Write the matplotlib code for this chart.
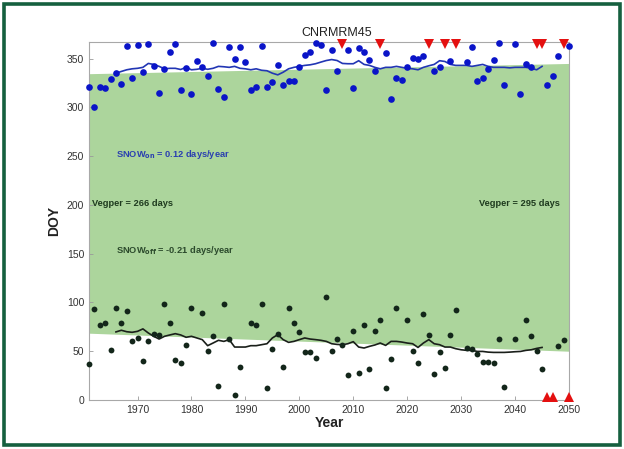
import numpy as np
import matplotlib
matplotlib.use("Agg")
import matplotlib.pyplot as plt
from matplotlib.patches import Rectangle

plt.rcParams['font.family'] = ['Liberation Sans', 'DejaVu Sans']

nan = np.nan
years = np.arange(1961, 2051)

# Day of year of snow onset (autumn) per year; NaN where no onset occurred
snow_on = [320.6, 300, 320.6, 319.6, 329, 335, 324, 363, 330, 364,
           336, 365, 342.6, 315, 339.5, 356.7, 365, 318, 340, 313.7,
           348, 341.6, 332.3, 366, 319, 311, 362, 350, 362, 346,
           318, 321, 363, 321, 326, 343, 323, 326.5, 327, 341,
           354, 356.7, 366, 364, 318, 359, 337, nan, 359, 320,
           361, 357, 349, 337, nan, 356, 308.6, 330, 327.8, 341,
           351, 350, 353, nan, 337, 341, nan, 348, nan, nan,
           346.7, 362, 327, 330, 339, 349, 366, 323, nan, 365,
           313.7, 344, 341, nan, nan, 323, 332, 353, nan, 363]

# Day of year of snow melt-out (spring) per year
snow_off = [36.8, 93, 76.6, 78.7, 50.8, 94.8, 78.7, 91, 60, 63.6,
            40.2, 60.8, 68, 67, 98.6, 79, 41.2, 37.8, 56, 94,
            nan, 89, 49.8, 66, 14.8, 98.6, 62.5, 5, 33.7, nan,
            78.7, 76.6, 98.6, 12, 52, 68, 33.7, 94, 79, 70,
            49, 49, 43, nan, 106, 50.5, 63, 56, 25.4, 70.8,
            27.5, 77.3, 32, 70.8, 82, 12.7, 42, 94.8, nan, 82,
            50, 37.8, 88, 67, 26.8, 49, 33, 67, 92, nan,
            53.3, 52.6, 47, 38.8, 38.8, 37.8, 63, 13.7, nan, 63,
            nan, 82, 65.6, 50, 32, nan, nan, 55, 62, nan]

# Years with no snow onset (marked at the top) and no melt-out (bottom)
no_onset_years = [2008, 2015, 2024, 2027, 2029, 2044, 2045, 2049]
no_melt_years = [2046, 2047, 2050]

# Running means, 1966-2045
ma_years = np.arange(1966, 2046)
snow_on_ma = [335, 336.8, 338.5, 339.5, 340, 341, 345, 344, 342, 339.5,
              340, 340, 338.8, 341, 338.5, 339, 340, 339, 340, 342,
              341.6, 341, 342, 340, 339.5, 338.5, 339.5, 338, 337.5, 335,
              333.3, 336, 339.5, 341, 342, 343, 343.6, 344.7, 346.4, 348,
              349, 348, 345, 344.7, 344.7, 347.8, 344, 343, 341, 339.5,
              341, 341, 342, 341, 340, 339.5, 338.5, 341, 342.6, 344,
              347.8, 347, 344, 343, 343, 343, 342, 343, 344, 342,
              341, 341, 341, 340.5, 341, 341, 341, 340, 338.5, 342]
snow_off_ma = [69.8, 71.5, 70, 69.4, 70.4, 72.9, 68.7, 65.3, 62.5, 65.3,
               66.7, 68, 66.7, 64.3, 65.3, 63.6, 61.9, 55.7, 58.4, 61.2,
               60.1, 61.9, 54.3, 54.3, 54.3, 55.7, 55.7, 56.7, 57.7, 63.6,
               67, 61.9, 59.1, 60.1, 61.9, 63.6, 62.5, 61.9, 61.2, 60.1,
               57.7, 57, 56.7, 57.7, 59.8, 54.3, 53.3, 55, 56.4, 58.4,
               56, 60.1, 60.1, 59.4, 58.4, 57.7, 53.9, 58.4, 61.9, 57.7,
               56.7, 54.3, 54.3, 52.6, 51.5, 50.9, 50.9, 49.8, 49.8, 49.1,
               48.8, 48.8, 48.8, 49.1, 49.5, 49.8, 50.9, 51.5, 52.9, 53.9]

# Linear trend end points bounding the vegetation period
trend_years = [1961, 2050]
onset_trend = [334.5, 345.0]
melt_trend = [68.5, 50.0]

fig = plt.figure(figsize=(6.24, 4.49), dpi=100)
fig.patch.set_facecolor('white')
fig.patches.append(Rectangle((0.006, 0.008), 0.988, 0.982, transform=fig.transFigure,
                             fill=False, edgecolor='#15603f', linewidth=2.6))

ax = fig.add_axes([0.1426, 0.1091, 0.7693, 0.7974])
ax.fill_between(trend_years, melt_trend, onset_trend, color='#acd59c', linewidth=0, zorder=1)

ax.plot(ma_years, snow_on_ma, color='#2236b4', linewidth=1.2, zorder=3)
ax.plot(ma_years, snow_off_ma, color='#1a1f1a', linewidth=1.2, zorder=3)

ax.plot(years, snow_on, 'o', color='#0a14c8', markersize=4.8, markeredgewidth=0,
        zorder=4, clip_on=False)
ax.plot(years, snow_off, 'o', color='#13261a', markersize=4.2, markeredgewidth=0,
        zorder=4, clip_on=False)

ax.plot(no_onset_years, [364.5] * len(no_onset_years), 'v', color='#e41010',
        markersize=6.5, markeredgewidth=0, zorder=5, clip_on=False)
ax.plot(no_melt_years, [3.5] * len(no_melt_years), '^', color='#e41010',
        markersize=6.5, markeredgewidth=0, zorder=5, clip_on=False)

txt = dict(fontsize=6.7, fontweight='bold', va='center', zorder=6)
ax.text(1966, 252, r'SNOW$_{\mathbf{on}}$ = 0.12 days/year', color='#2a3fb0',
        ha='left', **txt)
ax.text(1961.5, 201, 'Vegper = 266 days', color='#1e3a1e', ha='left', **txt)
ax.text(1966, 153, r'SNOW$_{\mathbf{off}}$ = -0.21 days/year', color='#2c4a2c',
        ha='left', **txt)
ax.text(2048.3, 201, 'Vegper = 295 days', color='#1e3a1e', ha='right', **txt)

ax.set_xlim(1961, 2050)
ax.set_ylim(0, 367)
ax.set_xticks(np.arange(1970, 2051, 10))
ax.set_yticks(np.arange(0, 351, 50))
ax.tick_params(direction='in', length=3, width=0.6, colors='#9a9a9a',
               labelcolor='#333333', labelsize=7.5)
for s in ax.spines.values():
    s.set_color('#a8a8a8')
    s.set_linewidth(0.8)

ax.set_title('CNRMRM45', fontsize=9, color='#222222', pad=4, x=0.517)
ax.set_xlabel('Year', fontsize=10, fontweight='bold', color='#222222', labelpad=1)
ax.set_ylabel('DOY', fontsize=10, fontweight='bold', color='#222222', labelpad=4)

fig.savefig('out.png', dpi=100)
